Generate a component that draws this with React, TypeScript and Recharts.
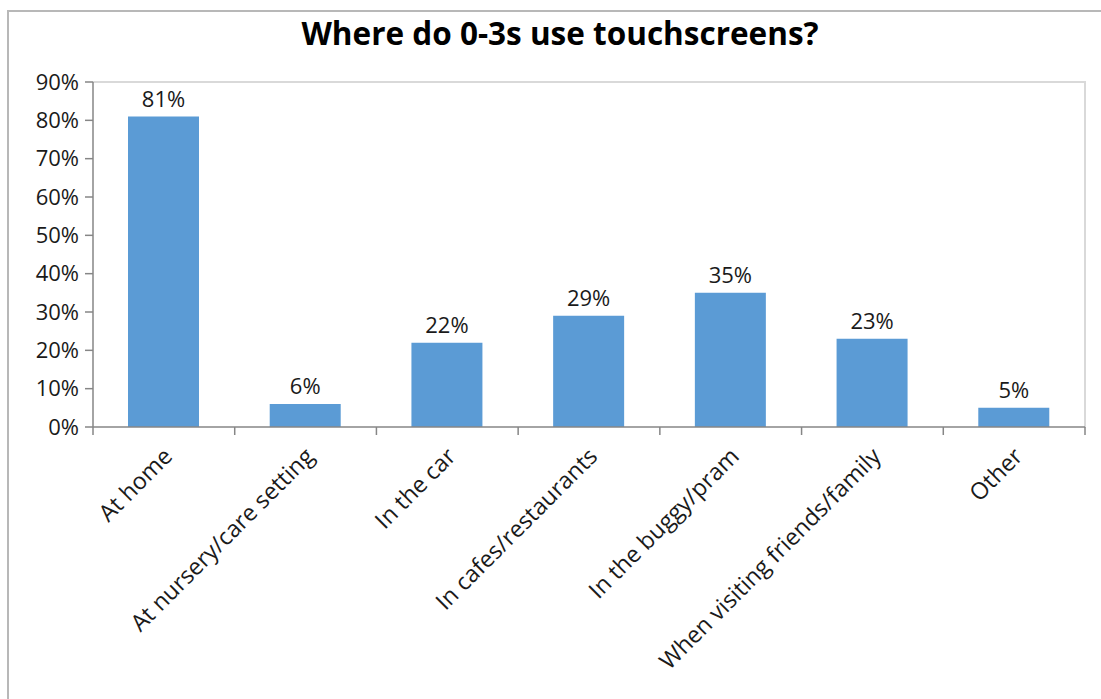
import { BarChart, Bar, XAxis, YAxis, LabelList } from 'recharts';

const categories = [
  'At home',
  'At nursery/care setting',
  'In the car',
  'In cafes/restaurants',
  'In the buggy/pram',
  'When visiting friends/family',
  'Other',
];
const shares = [81, 6, 22, 29, 35, 23, 5];
const yTicks = [0, 10, 20, 30, 40, 50, 60, 70, 80, 90];

const data = categories.map((name, i) => ({ name, value: shares[i] }));

const FONT = '"Open Sans", "Noto Sans", sans-serif';
const TEXT = '#1a1a1a';
const AXIS = '#868686';
const PLOT_W = 992;
const BAND = PLOT_W / categories.length;

/** Category label rotated -45deg, with tick marks on the band edges like Excel. */
function CategoryTick(props: any) {
  const { x, y, payload, index } = props;
  const left = x - BAND / 2;
  const ax = x - 2;
  const ay = y + 19;
  return (
    <g>
      <line x1={left} y1={y} x2={left} y2={y + 8} stroke={AXIS} strokeWidth={1.5} />
      {index === categories.length - 1 && (
        <line x1={x + BAND / 2} y1={y} x2={x + BAND / 2} y2={y + 8} stroke={AXIS} strokeWidth={1.5} />
      )}
      <text
        x={ax}
        y={ay}
        dy="0.72em"
        textAnchor="end"
        transform={`rotate(-45, ${ax}, ${ay})`}
        fill={TEXT}
        fontSize={23.3}
        fontFamily={FONT}
      >
        {payload.value}
      </text>
    </g>
  );
}

export default function App() {
  return (
    <div style={{ position: 'absolute', left: 0, top: 0, width: 1101, height: 699, overflow: 'hidden', background: '#fff' }}>
      <div
        style={{
          position: 'absolute',
          left: 7,
          top: 10,
          width: 1200,
          height: 800,
          border: '2px solid #b8b8b8',
        }}
      />
      <div
        style={{
          position: 'absolute',
          left: 60,
          width: 1000,
          top: 10,
          textAlign: 'center',
          fontFamily: FONT,
          fontWeight: 700,
          fontSize: 31.5,
          lineHeight: '46px',
          color: '#000',
        }}
      >
        Where do 0-3s use touchscreens?
      </div>
      <div
        style={{
          position: 'absolute',
          left: 93,
          top: 81,
          width: PLOT_W - 1,
          height: 345,
          borderTop: '2px solid #d9d9d9',
          borderRight: '2px solid #d9d9d9',
        }}
      />
      <div style={{ position: 'absolute', left: 0, top: 0 }}>
        <BarChart width={1101} height={699} data={data} margin={{ top: 82, right: 16, bottom: 0, left: 0 }}>
          <XAxis
            dataKey="name"
            interval={0}
            height={272}
            tickLine={false}
            tickSize={0}
            tickMargin={0}
            axisLine={{ stroke: AXIS, strokeWidth: 1.5 }}
            tick={<CategoryTick />}
          />
          <YAxis
            width={93}
            domain={[0, 90]}
            ticks={yTicks}
            interval={0}
            tickSize={8}
            tickMargin={6}
            axisLine={{ stroke: AXIS, strokeWidth: 1.5 }}
            tickLine={{ stroke: AXIS, strokeWidth: 1.5 }}
            tick={{ fill: TEXT, fontSize: 22, fontFamily: FONT }}
            tickFormatter={(v: number) => `${v}%`}
          />
          <Bar dataKey="value" fill="#5B9BD5" barSize={71} isAnimationActive={false}>
            <LabelList
              dataKey="value"
              position="top"
              offset={10}
              fill={TEXT}
              fontSize={22}
              fontFamily={FONT}
              formatter={(v: any) => `${v}%`}
            />
          </Bar>
        </BarChart>
      </div>
    </div>
  );
}
